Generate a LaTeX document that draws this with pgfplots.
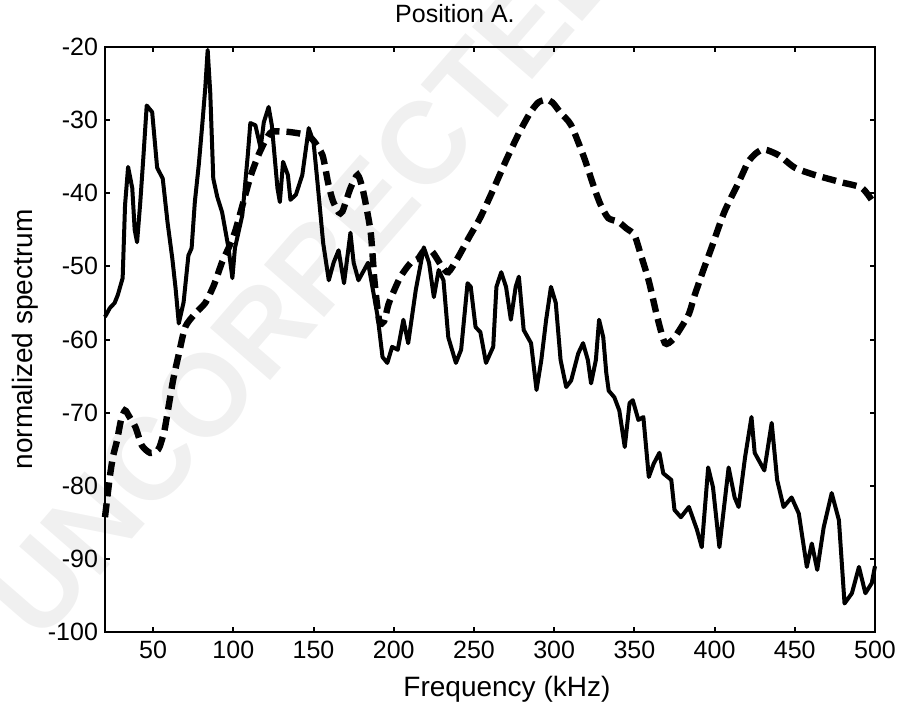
\documentclass[border=0pt]{standalone}
\usepackage{pgfplots}
\pgfplotsset{compat=1.18}
\usepackage{fontspec}
\setmainfont{Liberation Sans}
\begin{document}
\begin{tikzpicture}
\node[rotate=49, text=gray!12, font=\bfseries\fontsize{58}{60}\selectfont] at (100.9pt,177pt) {UNCORRECTED};
\begin{axis}[
  at={(0pt,0pt)}, anchor=south west,
  scale only axis, width=385pt, height=292.5pt,
  xmin=20, xmax=500, ymin=-100, ymax=-20,
  xtick={50,100,...,500}, ytick={-100,-90,...,-20},
  tick align=inside, major tick length=2.5pt,
  tick style={black, line width=1pt},
  axis line style={line width=1.4pt},
  /pgf/number format/assume math mode=true,
  tick label style={font=\fontsize{12.5}{14}\selectfont},
  xticklabel style={yshift=-1pt},
  title={Position A.},
  title style={at={(axis description cs:0.4545,1)}, anchor=south, yshift=2.5pt, font=\fontsize{12.5}{14}\selectfont},
  xlabel={Frequency (kHz)},
  xlabel style={at={(axis description cs:0.522,0)}, anchor=north, inner sep=0pt, yshift=-22pt, font=\fontsize{14}{16}\selectfont},
  ylabel={normalized spectrum},
  ylabel style={at={(axis description cs:-0.104,0.5)}, anchor=center, font=\fontsize{14}{16}\selectfont},
  clip=false,
]
\addplot[black, line width=2pt, line join=round] coordinates {
(20,-56.9)(23,-55.7)(26,-55)(28,-53.9)(31,-51.6)(32.5,-41.6)(34.4,-36.4)(37,-39.3)(38.5,-45)(40,-46.7)
(42,-41.2)(44,-34.8)(46,-28)(49.4,-28.9)(52.5,-36.5)(56,-38)(59,-44)(62,-49)(64,-53)(66,-57.8)
(69,-54.9)(72,-48.5)(74,-47.5)(76,-41.2)(78.5,-36)(80.6,-30.7)(82.5,-25.6)(84,-20.4)(85.6,-26.2)(87.5,-38)
(90,-40.5)(93,-42.6)(97,-47.5)(99.4,-51.6)(101,-47.5)(105.6,-43)(109,-34.8)(110.6,-30.4)(113.75,-30.7)(117,-33.8)
(119,-30.3)(122,-28.2)(124,-30.7)(127.5,-39.3)(129,-41.2)(131,-35.7)(134,-37.5)(135.6,-40.9)(139,-40.2)(143,-37.5)
(147,-31.1)(150,-33)(152.5,-38.6)(156,-46.8)(159.5,-51.9)(162.5,-49.5)(165.6,-47.8)(169,-52.3)(173,-45.4)(175,-49.5)
(178,-51.9)(184,-49.5)(187,-53.2)(190,-56.9)(193,-62.4)(196,-63.2)(199,-61)(202.5,-61.4)(206,-57.3)(209,-60.5)
(213.75,-53.2)(218.75,-47.4)(222,-49.5)(225,-54.2)(228,-50.5)(231,-51.9)(234,-59.7)(238.75,-63.2)(242,-61.4)(246,-52.3)
(248,-52.8)(251,-58.3)(254,-59)(257.5,-63.2)(262,-61)(264,-52.8)(267,-50.8)(270,-52.8)(273,-57.3)(276,-52.8)
(278,-51.4)(281,-58.7)(285.6,-60.5)(289,-66.9)(292,-62.8)(295,-57.3)(298,-52.8)(301,-55)(304,-62.8)(307.5,-66.5)
(310.6,-65.6)(315,-61.9)(318,-60.5)(321,-62.8)(323,-66)(326,-62.8)(328,-57.3)(330.6,-59.7)(332.5,-64.6)(334,-67)
(337.5,-67.9)(340.6,-69.7)(344,-74.7)(347,-68.7)(349,-68.3)(352.5,-71)(355.6,-70.6)(359,-78.8)(362,-77)(365.6,-75.5)
(368,-78.3)(373,-79.2)(375,-83.3)(379,-84.3)(384,-82.9)(389,-86)(392,-88.4)(396,-77.5)(399,-80.2)(403,-88.4)
(408.75,-77.5)(412.5,-81.6)(415,-82.9)(419,-76.1)(423,-70.6)(425,-75.5)(431,-77.9)(435.6,-71.4)(439,-79.2)(443,-82.9)
(448,-81.6)(452.5,-83.8)(457.5,-91.1)(460.6,-87.9)(464,-91.5)(468,-85.7)(473,-81)(477.5,-84.7)(481,-96.1)(485.6,-94.7)
(490,-91.1)(494,-94.7)(498,-93.3)(500,-91)
};
\addplot[black, line width=3.2pt, dash pattern=on 7pt off 3.5pt, smooth, tension=0.4] coordinates {
(20,-84.3)(23,-78.8)(25,-76)(27.5,-73.8)(30,-71)(32.5,-69.7)(35,-70.5)(39,-72)(43,-74.5)(48,-75.5)
(52,-75.3)(54,-74.7)(57,-72.5)(59,-70)(62.5,-65.5)(66,-62)(70,-58.3)(76,-56.5)(82.5,-55)(88,-52.5)
(93,-49.4)(97,-47.5)(101,-45.3)(104,-43)(107.5,-40.2)(111,-37.5)(115.6,-34.8)(120,-32.8)(124,-31.6)(134,-31.6)
(145,-32)(150,-32.8)(155.6,-34.8)(159,-38.5)(162,-41)(165.6,-42.6)(168,-42.5)(173,-39.3)(177.5,-37.5)(181,-39.8)
(185.6,-45.3)(188,-52)(191,-57.5)(194,-57.5)(197,-55)(204,-51.5)(210.6,-49.5)(215,-49)(219,-47.8)(224,-48)
(230,-50)(234,-50.8)(240,-48.8)(247,-46)(254,-43.3)(262,-39.5)(270,-35.5)(278,-31.8)(285,-29)(290,-27.6)
(295,-27.2)(299,-27.6)(304,-29)(310.6,-30.7)(318.8,-35.2)(325,-39.3)(329,-41.6)(333.7,-43.4)(340,-43.9)(345,-44.8)
(350,-45.7)(354,-48.4)(359,-52)(364,-56.7)(369,-60.5)(374,-60)(379,-58.4)(384,-56.5)(387.5,-54)(393,-50.5)
(398,-47.5)(406,-42.6)(415,-38.5)(421,-35.7)(426,-34.5)(431,-34)(440,-34.8)(450,-36.5)(462.5,-37.5)(479,-38.5)
(492,-39.3)(500,-41.6)
};
\end{axis}
\pgfresetboundingbox
\path[use as bounding box] (-52.5pt,-40.5pt) rectangle (402pt,316pt);
\end{tikzpicture}
\end{document}
